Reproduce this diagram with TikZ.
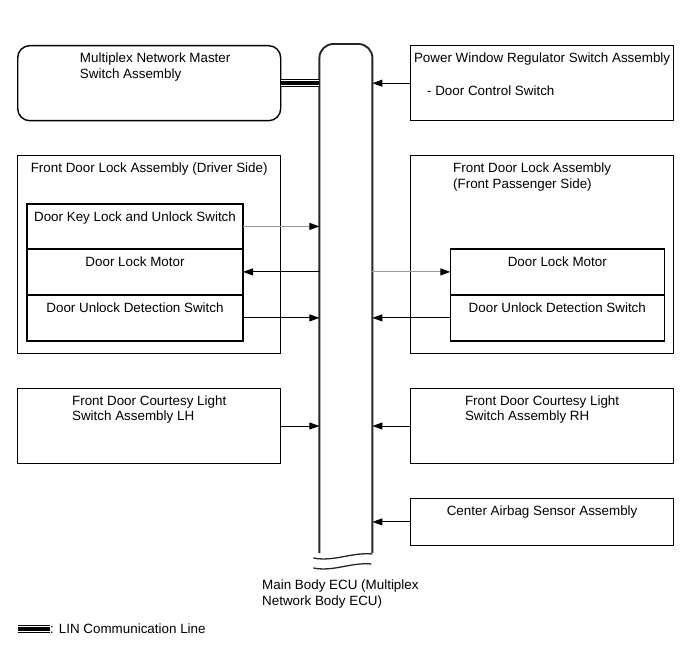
\documentclass[tikz,border=0pt]{standalone}
\usepackage{fontspec}
\setmainfont{Liberation Sans}
\usepackage{tikz}
\usetikzlibrary{positioning, arrows.meta, calc}
\newcommand\diagfont{\fontsize{13.4}{15.5}\selectfont}

\begin{document}
\begin{tikzpicture}[x=1pt, y=-1pt, node distance=33.5pt and 128.5pt, font=\diagfont]

  \tikzstyle{unitbox} = [
    draw, line width=1.4pt,
    minimum width=263pt, inner sep=0pt
  ]
  \tikzstyle{rowbox} = [draw, line width=1.4pt, inner sep=0pt, outer sep=0pt]
  \tikzstyle{boxtitle} = [anchor=north, inner sep=0pt, yshift=-7.7pt, align=left]
  \tikzstyle{sig} = [-{Triangle[length=10pt, width=7pt]}, line width=0.9pt]
  \tikzstyle{faint} = [draw=black!40, -{Triangle[length=10pt, width=7pt, color=black]}]
  \tikzstyle{eculine} = [line width=1.9pt, draw=black!85]
  \tikzstyle{lin} = [
    line width=8.4pt,
    postaction={draw=white, line width=5.8pt},
    postaction={draw=black, line width=4pt}
  ]

  \useasboundingbox (0,0) rectangle (691,660);

  \node[unitbox, rounded corners=12pt, minimum height=75pt, anchor=north west,
        label={[boxtitle, xshift=6pt]north:{Multiplex Network Master\\Switch Assembly}}]
    (master) at (17,45) {};

  \node[unitbox, minimum height=75pt, right=of master,
        label={[boxtitle]north:Power Window Regulator Switch Assembly}] (pw) {};
  \node[right=17pt of pw.west, yshift=-7.5pt, inner sep=0pt] (pwsub) {- Door Control Switch};

  \node[unitbox, minimum height=198pt, below=of master,
        label={[boxtitle]north:Front Door Lock Assembly (Driver Side)}] (drvlock) {};

  \node[rowbox, minimum width=216pt, minimum height=45pt,
        below right=49pt and 10pt of drvlock.north west,
        label={[boxtitle]north:Door Key Lock and Unlock Switch}] (keysw) {};
  \node[rowbox, minimum width=216pt, minimum height=46pt, below=0pt of keysw,
        label={[boxtitle]north:Door Lock Motor}] (drvmotor) {};
  \node[rowbox, minimum width=216pt, minimum height=46pt, below=0pt of drvmotor,
        label={[boxtitle]north:Door Unlock Detection Switch}] (drvunlock) {};

  \node[unitbox, minimum height=198pt, below=of pw,
        label={[boxtitle, xshift=-10pt]north:{Front Door Lock Assembly\\(Front Passenger Side)}}]
    (paslock) {};

  \node[rowbox, minimum width=214pt, minimum height=46pt,
        below left=94pt and 10pt of paslock.north east,
        label={[boxtitle]north:Door Lock Motor}] (pasmotor) {};
  \node[rowbox, minimum width=214pt, minimum height=46pt, below=0pt of pasmotor,
        label={[boxtitle]north:Door Unlock Detection Switch}] (pasunlock) {};

  \node[unitbox, minimum height=75pt, below=of drvlock,
        label={[boxtitle]north:{Front Door Courtesy Light\\Switch Assembly LH}}] (lhcourt) {};
  \node[unitbox, minimum height=75pt, below=of paslock,
        label={[boxtitle]north:{Front Door Courtesy Light\\Switch Assembly RH}}] (rhcourt) {};
  \node[unitbox, minimum height=47pt, below=of rhcourt,
        label={[boxtitle]north:Center Airbag Sensor Assembly}] (airbag) {};

  \node[minimum width=53pt, minimum height=509pt, inner sep=0pt, outer sep=0pt,
        below right=-1pt and 38pt of master.north east] (ecu) {};
  \draw[eculine, rounded corners=14pt]
    (ecu.south west) -- (ecu.north west) -- (ecu.north east) -- (ecu.south east);
  \draw[eculine, line width=1.3pt]
    ($(ecu.south west)+(-6,5)$) .. controls +(20,4) and +(-20,-2) .. ($(ecu.south east)+(0,1)$);
  \draw[eculine, line width=1.3pt]
    ($(ecu.south west)+(-6,15)$) .. controls +(20,4) and +(-20,-2) .. ($(ecu.south east)+(-1,11)$);

  \node[anchor=north west, align=left, inner sep=0pt] (ecuname) at (262,580)
    {Main Body ECU (Multiplex\\Network Body ECU)};

  \draw[lin] (master.east) -- (master.east -| ecu.west);
  \draw[sig] (pw.west) -- (pw.west -| ecu.east);
  \draw[sig, faint] (keysw.east) -- (keysw.east -| ecu.west);
  \draw[sig] (drvmotor.east -| ecu.west) -- (drvmotor.east);
  \draw[sig] (drvunlock.east) -- (drvunlock.east -| ecu.west);
  \draw[sig, faint] (pasmotor.west -| ecu.east) -- (pasmotor.west);
  \draw[sig] (pasunlock.west) -- (pasunlock.west -| ecu.east);
  \draw[sig] (lhcourt.east) -- (lhcourt.east -| ecu.west);
  \draw[sig] (rhcourt.west) -- (rhcourt.west -| ecu.east);
  \draw[sig] (airbag.west) -- (airbag.west -| ecu.east);

  \node[anchor=west, inner sep=0pt] (linkey) at (50,629) {: LIN Communication Line};
  \coordinate[left=32pt of linkey.west] (linstart);
  \draw[lin] (linstart) -- (linkey.west);

\end{tikzpicture}
\end{document}
